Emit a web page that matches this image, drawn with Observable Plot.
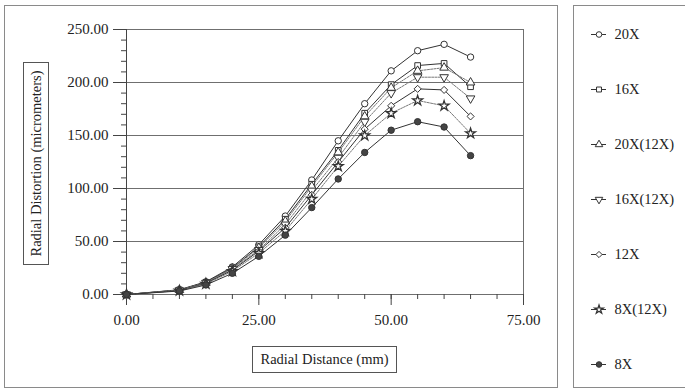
<!DOCTYPE html>
<html>
<head>
<meta charset="utf-8">
<script src="https://cdn.jsdelivr.net/npm/d3@7"></script>
<script src="https://cdn.jsdelivr.net/npm/@observablehq/plot@0.6"></script>
<style>
  html, body { margin: 0; padding: 0; background: #fff; }
  #wrap { position: relative; width: 685px; height: 389px; overflow: hidden; font-family: "Liberation Serif", "DejaVu Serif", serif; color: #222; }
  #wrap svg { position: absolute; top: 0; }
  .frame { position: absolute; border: 1.5px solid #8a8a8a; box-sizing: border-box; }
  .tbox { position: absolute; border: 1px solid #555; box-sizing: border-box; background: #fff; display: flex; align-items: center; justify-content: center; font-size: 14.5px; white-space: nowrap; }
  .tbox.v span { transform: rotate(-90deg); display: block; }
</style>
</head>
<body>
<div id="wrap">
  <div class="frame" style="left:4px;top:5px;width:554px;height:383px;"></div>
  <div class="frame" style="left:573px;top:5px;width:120px;height:383px;"></div>
</div>
<script>
// ---- data ----
const radialDistance = [0, 10, 15, 20, 25, 30, 35, 40, 45, 50, 55, 60, 65];
const seriesNames = ["20X", "16X", "20X(12X)", "16X(12X)", "12X", "8X(12X)", "8X"];
const s20X    = [0, 4.5, 12.0, 26.0, 47, 74, 108, 145, 180, 211, 230, 236, 224];
const s16X    = [0, 4.3, 11.5, 25.0, 45, 71, 104, 136, 171, 198, 216, 218, 196];
const s20X12X = [0, 4.2, 11.0, 24.5, 44, 69, 102, 134, 168, 195, 211, 214, 200];
const s16X12X = [0, 4.0, 11.0, 24.0, 42, 66,  98, 129, 163, 190, 205, 205, 185];
const s12X    = [0, 3.8, 10.5, 23.0, 41, 63,  94, 125, 156, 178, 194, 193, 168];
const s8X12X  = [0, 3.6, 10.0, 22.0, 39, 60,  90, 121, 150, 171, 183, 178, 152];
const s8X     = [0, 3.3,  9.0, 20.0, 36, 56,  82, 109, 134, 155, 163, 158, 131];
const yMajorTicks = [0, 50, 100, 150, 200, 250];
const xMajorTicks = [0, 25, 50, 75];

const valuesBySeries = [s20X, s16X, s20X12X, s16X12X, s12X, s8X12X, s8X];
const rows = seriesNames.flatMap((name, i) =>
  radialDistance.map((x, j) => ({series: name, x, y: valuesBySeries[i][j]})));

const symbolRange = ["circle", "square", "triangle", "triangle", "diamond2", "star", "circle"];
const dotted = new Set(["20X(12X)", "16X(12X)", "8X(12X)"]);
const filled = new Set(["8X"]);
const font = `"Liberation Serif", "DejaVu Serif", serif`;
const sizeOf = d => d.series === "8X(12X)" ? 3.1 : 3.2;
const widthOf = d => d.series === "8X(12X)" ? 1.3 : 1;

const marks = [
  Plot.ruleY(yMajorTicks, {stroke: "#6f6f6f", strokeWidth: 1}),
  Plot.ruleX([75], {stroke: "#6f6f6f", strokeWidth: 1}),
  Plot.axisY({ticks: d3.range(0, 251, 10), tickSize: 5, tickFormat: () => "", stroke: "#444", label: null}),
  Plot.axisY({ticks: yMajorTicks, tickSize: 13, tickPadding: 5, tickFormat: d3.format(".2f"), stroke: "#444", fontSize: 15, fill: "#222", label: null}),
  Plot.axisX({ticks: d3.range(0, 76, 5), tickSize: 5, tickFormat: () => "", stroke: "#444", label: null}),
  Plot.axisX({ticks: xMajorTicks, tickSize: 11, tickPadding: 9, tickFormat: d3.format(".2f"), stroke: "#444", fontSize: 15, fill: "#222", label: null}),
  Plot.ruleX([0], {stroke: "#444"}),
];
for (const name of seriesNames) {
  const d = rows.filter(r => r.series === name);
  marks.push(Plot.line(d, {
    x: "x", y: "y",
    stroke: dotted.has(name) ? "#777" : "#333",
    strokeWidth: 1,
    strokeDasharray: dotted.has(name) ? "2,1.2" : null
  }));
}
for (const name of seriesNames) {
  const d = rows.filter(r => r.series === name);
  marks.push(Plot.dot(d, {
    x: "x", y: "y", symbol: "series",
    rotate: name === "16X(12X)" ? 180 : 0,
    r: sizeOf({series: name}),
    stroke: "#333", strokeWidth: widthOf({series: name}),
    fill: filled.has(name) ? "#444" : "#fff"
  }));
}

const chart = Plot.plot({
  width: 685, height: 389,
  marginLeft: 126, marginRight: 162, marginTop: 29, marginBottom: 95,
  style: {fontFamily: font, fontSize: "15px", background: "transparent", color: "#222"},
  x: {domain: [0, 75], axis: null, label: null},
  y: {domain: [0, 250], axis: null, label: null},
  symbol: {domain: seriesNames, range: symbolRange},
  marks
});

// ---- legend ----
const legendRows = seriesNames.map(name => ({series: name}));
const legend = Plot.plot({
  width: 111, height: 389,
  marginLeft: 17, marginRight: 79, marginTop: 32, marginBottom: 23,
  style: {fontFamily: font, fontSize: "14.5px", background: "transparent", color: "#222"},
  x: {domain: [0, 1], axis: null},
  y: {type: "point", domain: seriesNames, axis: null, padding: 0},
  symbol: {domain: seriesNames, range: symbolRange},
  marks: [
    Plot.ruleY(legendRows, {y: "series", x1: 0, x2: 1, stroke: "#333", strokeWidth: 1}),
    ...legendRows.map(row => Plot.dot([row], {x: 0.5, y: "series", symbol: "series",
      r: sizeOf(row) - 0.4, strokeWidth: widthOf(row),
      rotate: row.series === "16X(12X)" ? 180 : 0,
      stroke: "#333", fill: filled.has(row.series) ? "#444" : "#fff"})),
    Plot.text(legendRows, {x: 1, y: "series", text: "series", textAnchor: "start", dx: 8, fill: "#222", fontSize: 14.5})
  ]
});
legend.style.left = "574px";

const wrap = document.getElementById("wrap");
wrap.appendChild(chart);
wrap.appendChild(legend);

const yTitle = document.createElement("div");
yTitle.className = "tbox v";
Object.assign(yTitle.style, {left: "23px", top: "62px", width: "26px", height: "203px"});
yTitle.innerHTML = "<span>Radial Distortion (micrometers)</span>";
wrap.appendChild(yTitle);

const xTitle = document.createElement("div");
xTitle.className = "tbox";
Object.assign(xTitle.style, {left: "252px", top: "346px", width: "145px", height: "27px"});
xTitle.textContent = "Radial Distance (mm)";
wrap.appendChild(xTitle);
</script>
</body>
</html>
